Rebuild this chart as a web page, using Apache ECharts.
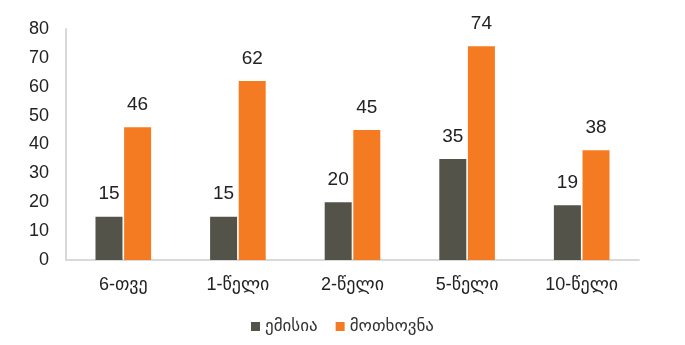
<!DOCTYPE html>
<html><head><meta charset="utf-8">
<script src="https://cdn.jsdelivr.net/npm/echarts@6/dist/echarts.min.js"></script>
<style>html,body{margin:0;padding:0;background:#fff}#c{width:685px;height:345px}</style>
</head><body><div id="c"></div>
<script>
const categories = ['6-თვე', '1-წელი', '2-წელი', '5-წელი', '10-წელი'];
const emissionValues = [15, 15, 20, 35, 19];
const demandValues = [46, 62, 45, 74, 38];
const seriesNames = ['ემისია', 'მოთხოვნა'];
const yTicks = {min: 0, max: 80, interval: 10};

const font = 'Liberation Sans, Arial, DejaVu Sans, sans-serif';
const chart = echarts.init(document.getElementById('c'));
chart.setOption({
  animation: false,
  textStyle: {fontFamily: font},
  grid: {left: 66, right: 46, top: 29, bottom: 85},
  legend: {
    data: seriesNames, bottom: 5, left: 'center', icon: 'rect',
    itemWidth: 9, itemHeight: 9, itemGap: 18,
    textStyle: {fontSize: 17, color: '#333', fontFamily: font}
  },
  xAxis: {
    type: 'category', data: categories,
    axisLine: {lineStyle: {color: '#d9d9d9', width: 2}},
    axisTick: {show: false},
    axisLabel: {fontSize: 18, color: '#222', margin: 16, fontFamily: font}
  },
  yAxis: {
    type: 'value', min: yTicks.min, max: yTicks.max, interval: yTicks.interval,
    axisLine: {show: true, lineStyle: {color: '#d9d9d9', width: 2}},
    splitLine: {show: false},
    axisTick: {show: false},
    axisLabel: {fontSize: 18, color: '#222', margin: 17, fontFamily: font}
  },
  series: [
    {name: seriesNames[0], type: 'bar', data: emissionValues, barWidth: 27, barGap: '6%',
     itemStyle: {color: '#54534a'},
     label: {show: true, position: 'top', distance: 13, fontSize: 19, color: '#222', fontFamily: font}},
    {name: seriesNames[1], type: 'bar', data: demandValues, barWidth: 27,
     itemStyle: {color: '#f47b22'},
     label: {show: true, position: 'top', distance: 13, fontSize: 19, color: '#222', fontFamily: font}}
  ]
});
</script></body></html>
